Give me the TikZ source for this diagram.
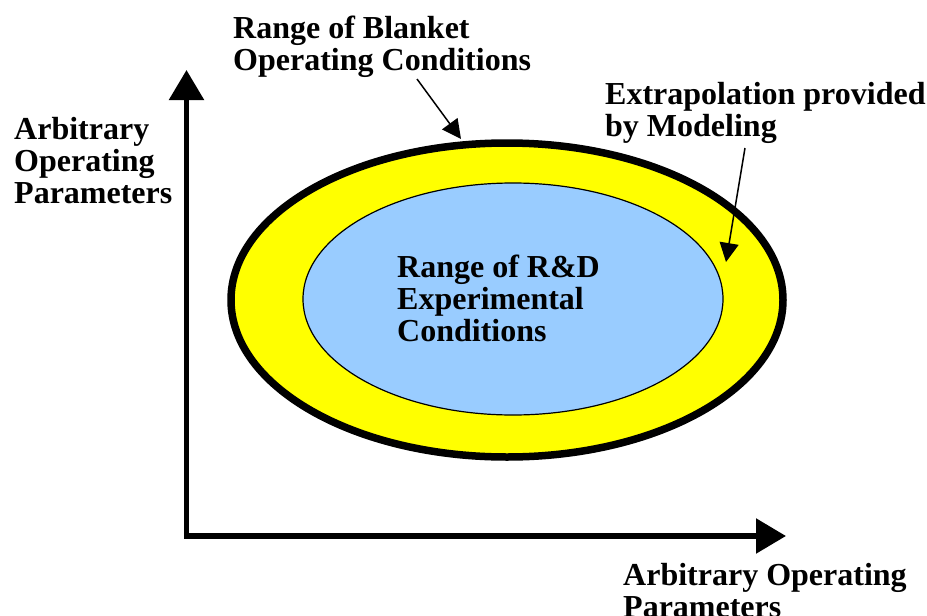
\documentclass[tikz,border=0pt]{standalone}
\usepackage{fontspec}
\setmainfont{Liberation Serif}
\usetikzlibrary{arrows.meta}
\definecolor{yel}{RGB}{255,255,0}
\definecolor{lblue}{RGB}{153,204,255}
\tikzset{
  lbl/.style={font=\fontsize{32}{32}\selectfont\bfseries, align=left, inner sep=0pt, anchor=base west},
  axis/.style={line width=5.5pt, -{Triangle[width=34pt,length=30pt]}},
  pointer/.style={line width=1.5pt, -{Triangle[width=19pt,length=19pt]}}
}
\begin{document}
\begin{tikzpicture}[x=1pt,y=-1pt]
\useasboundingbox (0,0) rectangle (927,616);
% ellipses
\draw[line width=7.5pt, fill=yel] (507,300) ellipse [x radius=276, y radius=157];
\draw[line width=1.2pt, fill=lblue] (513,299) ellipse [x radius=210, y radius=116];
% axes
\coordinate (origin) at (186.5,536);
\coordinate (ytip) at (186.5,70);
\coordinate (xtip) at (786,536);
\draw[axis] ([yshift=2.75pt]origin) -- (ytip);
\draw[axis] ([xshift=-2.75pt]origin) -- (xtip);
% labels (anchored at the baseline of the last line)
\node[lbl] (ylab) at (14,203) {Arbitrary\\Operating\\Parameters};
\node[lbl] (xlab) at (623,617) {Arbitrary Operating\\Parameters};
\node[lbl] (blanket) at (233,70) {Range of Blanket\\Operating Conditions};
\node[lbl] (extra) at (605,136) {Extrapolation provided\\by Modeling};
\node[lbl] (rd) at (397,341) {Range of R\&D\\Experimental\\Conditions};
% pointer arrows
\coordinate (b1) at (417,79);
\coordinate (b2) at (461,139);
\coordinate (e1) at (745,148);
\coordinate (e2) at (726,262);
\draw[pointer] (b1) -- (b2);
\draw[pointer] (e1) -- (e2);
\end{tikzpicture}
\end{document}
